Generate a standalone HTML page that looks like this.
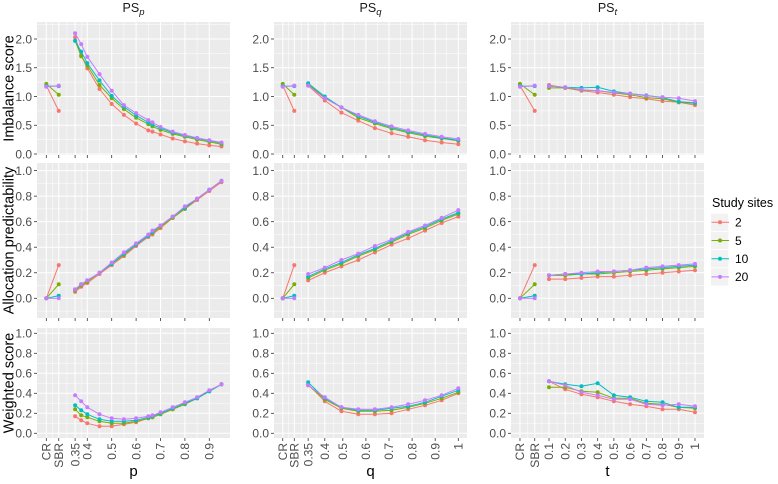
<!DOCTYPE html>
<html><head><meta charset="utf-8"><style>
html,body{margin:0;padding:0;background:#fff;}
svg{display:block;font-family:"Liberation Sans",Arial,sans-serif;}
</style></head><body>
<svg id="chart" width="778" height="484" viewBox="0 0 778 484" xmlns="http://www.w3.org/2000/svg"></svg>
<script>
// ---- data ----
const seriesNames = ["2","5","10","20"];
const seriesColors = ["#F8766D","#7CAE00","#00BFC4","#C77CFF"];
const pValues = [0.35,0.375,0.4,0.45,0.5,0.55,0.6,0.65,0.667,0.7,0.75,0.8,0.85,0.9,0.95];
const qValues = [0.35,0.422,0.494,0.567,0.639,0.711,0.783,0.856,0.928,1];
const tValues = [0.1,0.2,0.3,0.4,0.5,0.6,0.7,0.8,0.9,1];
const crImbalance = [1.19,1.22,1.18,1.17];
const sbrImbalance = [0.75,1.03,1.18,1.19];
const crPredict = [0,0,0,0];
const sbrPredict = [0.26,0.11,0.02,0.0];
const imbP = [
 [2.03,1.72,1.49,1.13,0.87,0.68,0.53,0.41,0.39,0.34,0.27,0.22,0.18,0.15,0.13],
 [1.97,1.70,1.54,1.20,0.97,0.78,0.63,0.52,0.48,0.42,0.35,0.30,0.25,0.21,0.17],
 [1.97,1.78,1.58,1.28,1.01,0.82,0.67,0.55,0.51,0.45,0.37,0.32,0.27,0.23,0.19],
 [2.10,1.91,1.69,1.39,1.10,0.85,0.71,0.59,0.55,0.47,0.39,0.33,0.28,0.24,0.20]];
const imbQ = [
 [1.19,0.93,0.72,0.58,0.45,0.36,0.30,0.24,0.20,0.17],
 [1.21,0.98,0.81,0.63,0.53,0.44,0.37,0.31,0.27,0.23],
 [1.23,1.00,0.81,0.66,0.55,0.46,0.39,0.33,0.28,0.24],
 [1.19,0.97,0.81,0.68,0.57,0.48,0.41,0.35,0.30,0.26]];
const imbT = [
 [1.20,1.15,1.10,1.07,1.03,0.99,0.96,0.92,0.90,0.85],
 [1.15,1.15,1.11,1.10,1.06,1.03,0.98,0.96,0.90,0.88],
 [1.18,1.16,1.15,1.16,1.09,1.05,1.02,0.98,0.91,0.89],
 [1.18,1.16,1.12,1.10,1.07,1.05,1.01,0.99,0.97,0.92]];
const predP = [
 [0.05,0.09,0.12,0.19,0.26,0.33,0.41,0.48,0.50,0.55,0.63,0.70,0.77,0.84,0.91],
 [0.06,0.10,0.13,0.20,0.27,0.34,0.42,0.49,0.51,0.56,0.63,0.70,0.78,0.85,0.92],
 [0.07,0.11,0.14,0.20,0.27,0.35,0.42,0.49,0.52,0.57,0.64,0.71,0.78,0.85,0.92],
 [0.07,0.11,0.14,0.20,0.28,0.36,0.43,0.50,0.53,0.57,0.64,0.72,0.78,0.85,0.92]];
const predQ = [
 [0.14,0.20,0.25,0.30,0.36,0.42,0.47,0.53,0.59,0.64],
 [0.16,0.22,0.27,0.33,0.38,0.44,0.50,0.55,0.61,0.66],
 [0.17,0.23,0.28,0.34,0.39,0.45,0.51,0.56,0.62,0.67],
 [0.19,0.24,0.30,0.35,0.41,0.46,0.52,0.57,0.63,0.69]];
const predT = [
 [0.15,0.15,0.16,0.17,0.17,0.18,0.19,0.20,0.21,0.22],
 [0.18,0.18,0.19,0.19,0.20,0.21,0.22,0.23,0.24,0.25],
 [0.18,0.19,0.19,0.20,0.21,0.22,0.23,0.24,0.25,0.26],
 [0.18,0.19,0.20,0.21,0.21,0.22,0.24,0.25,0.26,0.27]];
const wP = [
 [0.17,0.13,0.10,0.07,0.07,0.09,0.11,0.15,0.16,0.19,0.24,0.30,0.35,0.42,0.49],
 [0.24,0.18,0.16,0.12,0.10,0.10,0.12,0.15,0.16,0.19,0.24,0.29,0.35,0.42,0.49],
 [0.28,0.23,0.19,0.14,0.12,0.12,0.13,0.16,0.17,0.20,0.25,0.30,0.35,0.42,0.49],
 [0.38,0.32,0.26,0.19,0.15,0.14,0.15,0.17,0.18,0.21,0.26,0.31,0.36,0.43,0.49]];
const wQ = [
 [0.49,0.32,0.22,0.19,0.19,0.20,0.24,0.28,0.33,0.40],
 [0.48,0.34,0.25,0.22,0.22,0.23,0.26,0.30,0.35,0.41],
 [0.51,0.35,0.26,0.23,0.23,0.25,0.27,0.31,0.37,0.43],
 [0.48,0.36,0.26,0.24,0.24,0.26,0.29,0.33,0.38,0.45]];
const wT = [
 [0.52,0.44,0.39,0.36,0.32,0.29,0.27,0.24,0.24,0.21],
 [0.46,0.46,0.42,0.41,0.35,0.35,0.30,0.29,0.26,0.25],
 [0.52,0.49,0.47,0.50,0.38,0.36,0.32,0.31,0.26,0.26],
 [0.52,0.48,0.41,0.38,0.34,0.34,0.29,0.28,0.29,0.27]];
const xTickLabelsP = ["CR","SBR","0.35","0.4","0.5","0.6","0.7","0.8","0.9"];
const xTickValuesP = [0.232,0.283,0.35,0.4,0.5,0.6,0.7,0.8,0.9];
const xTickLabelsQ = ["CR","SBR","0.35","0.4","0.5","0.6","0.7","0.8","0.9","1"];
const xTickValuesQ = [0.24,0.29,0.35,0.422,0.5,0.6,0.7,0.8,0.9,1];
const xTickLabelsT = ["CR","SBR","0.1","0.2","0.3","0.4","0.5","0.6","0.7","0.8","0.9","1"];
const xTickValuesT = [-0.079,0.012,0.1,0.2,0.3,0.4,0.5,0.6,0.7,0.8,0.9,1];
const yTicksImb = [0,0.5,1,1.5,2];
const yTicksUnit = [0,0.2,0.4,0.6,0.8,1];

// ---- layout ----
const NS="http://www.w3.org/2000/svg";
const svg=document.getElementById('chart');
function mk(tag,attrs,parent){const e=document.createElementNS(NS,tag);for(const k in attrs)e.setAttribute(k,attrs[k]);(parent||svg).appendChild(e);return e;}
const cols=[
 {x0:37,x1:230,x:v=>111.7+(v-0.5)*244,xs:pValues,ticks:xTickValuesP,labels:xTickLabelsP,cr:0.232,sbr:0.283,title:"p",strip:"p"},
 {x0:274,x1:467,x:v=>458.3-(1-v)*231,xs:qValues,ticks:xTickValuesQ,labels:xTickLabelsQ,cr:0.24,sbr:0.29,title:"q",strip:"q"},
 {x0:511,x1:704,x:v=>549+(v-0.1)*162.2,xs:tValues,ticks:xTickValuesT,labels:xTickLabelsT,cr:-0.079,sbr:0.012,title:"t",strip:"t"}];
const rows=[
 {y0:22,y1:155,y:v=>154-v*57.5,ticks:yTicksImb,minor:[0.25,0.75,1.25,1.75,2.25],title:"Imbalance score",data:[imbP,imbQ,imbT],cr:crImbalance,sbr:sbrImbalance,name:"imbalance"},
 {y0:163,y1:318,y:v=>298.3-v*127.7,ticks:yTicksUnit,minor:[-0.1,0.1,0.3,0.5,0.7,0.9],title:"Allocation predictability",data:[predP,predQ,predT],cr:crPredict,sbr:sbrPredict,name:"predictability"},
 {y0:328,y1:438,y:v=>433.3-v*100,ticks:yTicksUnit,minor:[0.1,0.3,0.5,0.7,0.9],title:"Weighted score",data:[wP,wQ,wT],cr:null,sbr:null,name:"weighted"}];

cols.forEach((c,ci)=>{
 const st=mk('text',{x:(c.x0+c.x1)/2,y:12,'text-anchor':'middle','font-size':12.5,fill:'#1a1a1a'});
 
 
 st.textContent="PS";
 const sub=mk('tspan',{'font-size':9.5,'font-style':'italic',dy:3},st);sub.textContent=c.strip;
 const xt=mk('text',{x:(c.x0+c.x1)/2,y:476,'text-anchor':'middle','font-size':15,fill:'#000'});
 
 
 xt.textContent=c.title;
});

rows.forEach((r,ri)=>{
 const yt=mk('text',{transform:`translate(13.5,${(r.y0+r.y1)/2}) rotate(-90)`,'text-anchor':'middle','font-size':14.5,fill:'#000'});
 
 
 yt.textContent=r.title;
 cols.forEach((c,ci)=>{
  const g=mk('g',{});
  
  
  mk('rect',{x:c.x0,y:r.y0,width:c.x1-c.x0,height:r.y1-r.y0,fill:'#EBEBEB'},g);
  // minor grid
  r.minor.forEach(v=>{const yy=r.y(v);if(yy>r.y0&&yy<r.y1)mk('line',{x1:c.x0,x2:c.x1,y1:yy,y2:yy,stroke:'#fff','stroke-width':0.5},g);});
  const tp=c.ticks.map(c.x);
  const mids=[];for(let i=0;i<tp.length-1;i++)mids.push((tp[i]+tp[i+1])/2);
  mids.forEach(xx=>mk('line',{x1:xx,x2:xx,y1:r.y0,y2:r.y1,stroke:'#fff','stroke-width':0.5},g));
  r.ticks.forEach(v=>{const yy=r.y(v);mk('line',{x1:c.x0,x2:c.x1,y1:yy,y2:yy,stroke:'#fff','stroke-width':1},g);
    mk('line',{x1:c.x0-3,x2:c.x0,y1:yy,y2:yy,stroke:'#333','stroke-width':0.8});
    const tl=mk('text',{x:c.x0-5,y:yy+4.3,'text-anchor':'end','font-size':12,fill:'#4d4d4d'});
    
    
    tl.textContent=(ri===0?v.toFixed(1):v.toFixed(1));});
  tp.forEach((xx,i)=>{mk('line',{x1:xx,x2:xx,y1:r.y0,y2:r.y1,stroke:'#fff','stroke-width':1},g);
    mk('line',{x1:xx,x2:xx,y1:r.y1,y2:r.y1+3,stroke:'#333','stroke-width':0.8});
    if(ri===2){const tl=mk('text',{transform:`translate(${xx+4.2},${r.y1+5}) rotate(-90)`,'text-anchor':'end','font-size':12,fill:'#4d4d4d'});
      
      
      tl.textContent=c.labels[i];}});
  // series
  const data=r.data[ci];
  data.forEach((vals,si)=>{
   const col=seriesColors[si];
   if(r.cr){const a=[c.x(c.cr),r.y(r.cr[si])],b=[c.x(c.sbr),r.y(r.sbr[si])];
     const ln=mk('line',{x1:a[0],y1:a[1],x2:b[0],y2:b[1],stroke:col,'stroke-width':1},g);
     
     
     [a,b].forEach(pt=>{const d=mk('circle',{cx:pt[0],cy:pt[1],r:2,fill:col},g);
       
       });}
   const pts=vals.map((v,i)=>[c.x(c.xs[i]),r.y(v)]);
   const pl=mk('polyline',{points:pts.map(p=>p.join(',')).join(' '),fill:'none',stroke:col,'stroke-width':1},g);
   
   
   pts.forEach(pt=>{const d=mk('circle',{cx:pt[0],cy:pt[1],r:2,fill:col},g);
     
     });
  });
 });
});

// legend
const lg=mk('g',{});


const lt=mk('text',{x:712,y:207,'font-size':12.5,fill:'#000'},lg);


lt.textContent="Study sites";
seriesNames.forEach((n,i)=>{
 const cy=222.3+i*18.2;
 const e=mk('g',{},lg);
 
 
 mk('rect',{x:711,y:cy-8.6,width:17.3,height:17.3,fill:'#F2F2F2'},e);
 mk('line',{x1:711.5,x2:729,y1:cy,y2:cy,stroke:seriesColors[i],'stroke-width':1},e);
 mk('circle',{cx:720,cy:cy,r:2,fill:seriesColors[i]},e);
 const t=mk('text',{x:735,y:cy+4.3,'font-size':12,fill:'#000'},e);
 t.textContent=n;
});
</script>
</body></html>
